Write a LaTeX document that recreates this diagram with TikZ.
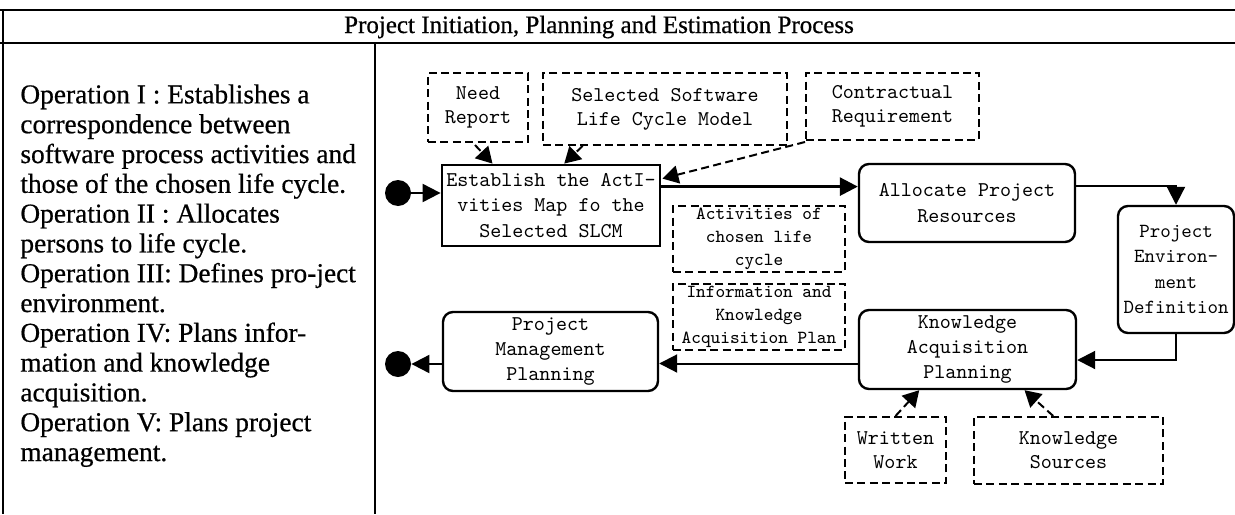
\documentclass[tikz,border=0pt]{standalone}
\usepackage{fontspec}
\setmainfont{Liberation Serif}
\newfontfamily\heavyserif[FakeBold=0.6]{Liberation Serif}
\usetikzlibrary{arrows.meta,calc}

\tikzset{
  frameline/.style={line width=1pt},
  procbox/.style={draw, line width=1.4pt, inner sep=0pt, align=center,
    font=\ttfamily\fontsize{10.5}{12.6}\selectfont},
  roundbox/.style={procbox, line width=1.2pt, rounded corners=5pt},
  databox/.style={draw, line width=1pt, dash pattern=on 4pt off 2.2pt,
    inner sep=0pt, align=center, font=\ttfamily\fontsize{10.5}{12}\selectfont},
  smalldata/.style={databox, font=\ttfamily\fontsize{9.2}{11.4}\selectfont},
  terminal/.style={circle, fill=black, inner sep=0pt, minimum size=13pt},
  flow/.style={line width=1pt, -{Triangle[length=9pt,width=9pt]}},
  mainflow/.style={flow, line width=1.4pt},
  dataflow/.style={line width=1pt, dash pattern=on 4pt off 2.2pt,
    -{Triangle[length=8pt,width=9pt]}}
}

\begin{document}
\begin{tikzpicture}[x=0.5pt, y=-0.5pt]
\useasboundingbox (0,0) rectangle (1235,514);

% table frame
\draw[frameline] (0,10) -- (1235,10);
\draw[frameline] (0,43) -- (1235,43);
\draw[frameline] (3,10) -- (3,514);
\draw[frameline] (375,43) -- (375,514);

\node[anchor=base, font=\heavyserif\fontsize{12.5}{14}\selectfont] (title) at (599,33)
  {Project Initiation, Planning and Estimation Process};

% operations text
\node[anchor=north west, inner sep=0pt, align=left,
      font=\heavyserif\fontsize{13.7}{14.9}\selectfont] (ops) at (20,84)
  {Operation I : Establishes a\\
   correspondence between\\
   software process activities and\\
   those of the chosen life cycle.\\
   Operation II : Allocates\\
   persons to life cycle.\\
   Operation III: Defines pro-ject\\
   environment.\\
   Operation IV: Plans infor-\\
   mation and knowledge\\
   acquisition.\\
   Operation V: Plans project\\
   management.};

% process steps
\node[procbox, minimum width=109pt, minimum height=40.5pt] (est) at (551,205.5)
  {Establish the ActI-\\vities Map fo the\\Selected SLCM};
\node[roundbox, minimum width=108pt, minimum height=39pt] (alloc) at (967,203)
  {Allocate Project\\Resources};
\node[roundbox, minimum width=58pt, minimum height=63.5pt,
      font=\ttfamily\fontsize{10}{12.6}\selectfont] (pe) at (1176,269.5)
  {Project\\Environ-\\ment\\Definition};
\node[roundbox, minimum width=108.5pt, minimum height=39.5pt] (kap) at (967.5,349.5)
  {Knowledge\\Acquisition\\Planning};
\node[roundbox, minimum width=107.5pt, minimum height=39.5pt] (pmp) at (550.5,351.5)
  {Project\\Management\\Planning};

% start and end
\node[terminal] (start) at (398,193) {};
\node[terminal] (stop) at (398,364) {};

% data items
\node[databox, minimum width=50pt, minimum height=34.5pt] (need) at (478,107.5)
  {Need\\Report};
\node[databox, minimum width=122pt, minimum height=36pt] (slcm) at (665,109)
  {Selected Software\\Life Cycle Model};
\node[databox, minimum width=86.5pt, minimum height=33.5pt] (contract) at (892.5,106.5)
  {Contractual\\Requirement};
\node[smalldata, minimum width=86pt, minimum height=33pt] (acts) at (759,239)
  {Activities of\\chosen life\\cycle};
\node[smalldata, minimum width=86pt, minimum height=33pt] (ikplan) at (759,317)
  {Information and\\Knowledge\\Acquisition Plan};
\node[databox, minimum width=50.5pt, minimum height=33pt] (written) at (895.5,450)
  {Written\\Work};
\node[databox, minimum width=94.5pt, minimum height=33.5pt] (sources) at (1068.5,450.5)
  {Knowledge\\Sources};

% control flow
\draw[flow] (start.east) -- (start.east -| est.west);
\coordinate (e1) at ($(est.north east)+(0,23)$);
\draw[mainflow] (e1) -- (e1 -| alloc.west);
\coordinate (a1) at ($(alloc.north east)+(0,23)$);
\draw[flow] (a1) -| (pe.north);
\coordinate (k1) at ($(kap.east)+(0,10.5)$);
\draw[flow] (pe.south) |- (k1);
\coordinate (k2) at ($(kap.west)+(0,14)$);
\draw[flow] (k2) -- (k2 -| pmp.east);
\draw[flow] (stop.east -| pmp.west) -- (stop.east);

% data flow
\draw[dataflow] ($(need.south)+(-3,2)$) -- ($(est.north west)!0.235!(est.north east)$);
\draw[dataflow] ($(slcm.south west)!0.165!(slcm.south east)$) -- ($(est.north west)!0.56!(est.north east)$);
\draw[dataflow] ($(contract.south west)+(0,1)$) -- ($(est.north east)+(1,15)$);
\draw[dataflow] (written.north) -- ($(kap.south west)!0.28!(kap.south east)$);
\draw[dataflow] ($(sources.north west)!0.42!(sources.north east)$) -- ($(kap.south west)!0.76!(kap.south east)$);
\end{tikzpicture}
\end{document}
